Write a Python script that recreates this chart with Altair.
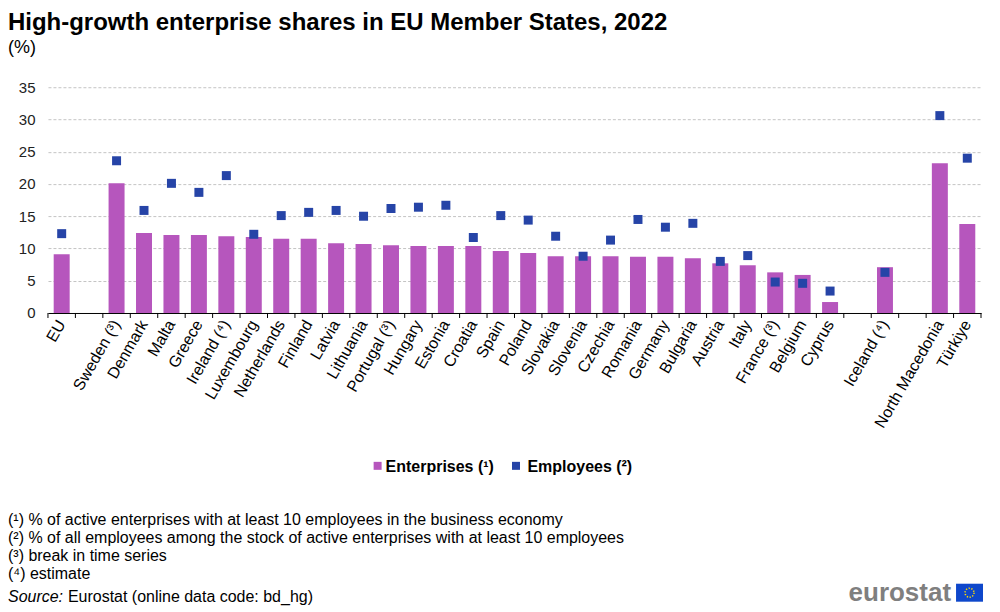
import altair as alt
import pandas as pd

countries = ["EU", " ", "Sweden (³)", "Denmark", "Malta", "Greece", "Ireland  (⁴)",
             "Luxembourg", "Netherlands", "Finland", "Latvia", "Lithuania", "Portugal (³)",
             "Hungary", "Estonia", "Croatia", "Spain", "Poland", "Slovakia", "Slovenia",
             "Czechia", "Romania", "Germany", "Bulgaria", "Austria", "Italy", "France (³)",
             "Belgium", "Cyprus", "  ", "Iceland  (⁴)", "   ", "North Macedonia", "Türkiye"]

enterprises = [9.1, None, 20.1, 12.4, 12.1, 12.1, 11.9, 11.8, 11.5, 11.5, 10.8, 10.7, 10.5,
               10.4, 10.4, 10.4, 9.6, 9.3, 8.8, 8.8, 8.8, 8.7, 8.7, 8.5, 7.7, 7.4, 6.3,
               5.9, 1.7, None, 7.1, None, 23.2, 13.8]

employees = [12.3, None, 23.6, 15.9, 20.1, 18.7, 21.3, 12.2, 15.1, 15.6, 15.9, 15.0, 16.2,
             16.4, 16.7, 11.7, 15.1, 14.4, 11.9, 8.8, 11.3, 14.5, 13.3, 13.9, 8.0, 8.9, 4.8,
             4.6, 3.4, None, 6.3, None, 30.6, 24.0]

y_ticks = [0, 5, 10, 15, 20, 25, 30, 35]

series_names = ["Enterprises (¹)", "Employees (²)"]
series_colors = ["#B656BD", "#2644A7"]

title_text = "High-growth enterprise shares in EU Member States, 2022"
subtitle_text = "(%)"

footnotes = [
    "(¹) % of active enterprises with at least 10 employees in the business economy",
    "(²) % of all employees among the stock of active enterprises with at least 10 employees",
    "(³) break in time series",
    "(⁴) estimate",
]

FONT = "Liberation Sans"

ent_rows = [{"country": c, "value": v} for c, v in zip(countries, enterprises) if v is not None]
emp_rows = [{"country": c, "value": v} for c, v in zip(countries, employees) if v is not None]
tick_rows = [{"country": c} for c in countries]
end_rows = [{"country": countries[-1]}]

x_scale = alt.Scale(domain=countries, paddingInner=0, paddingOuter=0)
x_axis = alt.Axis(
    title=None, labelAngle=-60, labelFontSize=16, labelColor="#000000",
    domainColor="#000000", ticks=False, labelPadding=8, grid=False, labelOverlap=False,
)

y_scale = alt.Scale(domain=[0, 35], nice=False)
y_axis = alt.Axis(
    title=None, values=y_ticks, tickCount=8, domain=False, ticks=False,
    labelPadding=13, labelFontSize=15, labelColor="#222222", labelOverlap=False,
    gridDash=[3, 2], gridColor="#c4c4c4", gridWidth=1,
)

bars = alt.Chart(alt.Data(values=ent_rows)).mark_bar(size=16, color=series_colors[0]).encode(
    x=alt.X("country:N", scale=x_scale, axis=x_axis),
    y=alt.Y("value:Q", scale=y_scale, axis=y_axis),
)

squares = alt.Chart(alt.Data(values=emp_rows)).mark_square(
    size=81, opacity=1, color=series_colors[1]
).encode(
    x=alt.X("country:N", scale=x_scale, axis=x_axis),
    y=alt.Y("value:Q", scale=y_scale, axis=y_axis),
)

ticks_left = alt.Chart(alt.Data(values=tick_rows)).mark_rule(color="#000000").encode(
    x=alt.X("country:N", bandPosition=0), y=alt.value(226), y2=alt.value(231)
)
ticks_end = alt.Chart(alt.Data(values=end_rows)).mark_rule(color="#000000").encode(
    x=alt.X("country:N", bandPosition=1), y=alt.value(226), y2=alt.value(231)
)

one = alt.Data(values=[{"k": 0}])


def label(text, x, y, **kw):
    props = dict(align="left", baseline="middle", fontSize=16, font=FONT, color="#000000")
    props.update(kw)
    return alt.Chart(one).mark_text(**props).encode(
        x=alt.value(x), y=alt.value(y), text=alt.value(text)
    )


def swatch(color, x, y):
    return alt.Chart(one).mark_square(size=64, opacity=1, color=color).encode(
        x=alt.value(x), y=alt.value(y)
    )


title_layer = label(title_text, -40, -76, baseline="top", fontSize=24, fontWeight="bold")
subtitle_layer = label(subtitle_text, -40, -39, baseline="middle", fontSize=18)

legend_layers = [
    swatch(series_colors[0], 330, 379),
    label(series_names[0], 338, 380, fontSize=16, fontWeight="bold"),
    swatch(series_colors[1], 468.5, 379),
    label(series_names[1], 480, 380, fontSize=16, fontWeight="bold"),
]

note_layers = [label(t, -40, 433 + 18 * i) for i, t in enumerate(footnotes)]
source_it = label("Source:", -40, 510, fontStyle="italic")
source_rest = label("Eurostat (online data code: bd_hg)", 20, 510)
logo_text = label("eurostat", 904, 506, align="right", fontSize=26, fontWeight="bold", color="#7F7F7F")

flag = alt.Chart(one).mark_rule(color="#0E47CB", strokeWidth=18, strokeCap="butt").encode(
    x=alt.value(909), x2=alt.value(936), y=alt.value(506)
)

stars = alt.Chart(one).mark_point(
    shape="circle", size=80, stroke="#FFDD00", strokeWidth=1.6, strokeDash=[1.2, 1.6],
    filled=False, opacity=1,
).encode(x=alt.value(922.5), y=alt.value(506))

chart = alt.layer(
    bars, squares, ticks_left, ticks_end, title_layer, subtitle_layer,
    *legend_layers, *note_layers, source_it, source_rest, logo_text, flag, stars
).properties(
    width=934,
    height=226,
    padding={"left": 0, "top": 3, "right": 0, "bottom": 0},
).configure(font=FONT).configure_view(stroke=None)

chart.save("out.html", embed_options={"renderer": "svg", "actions": False})
